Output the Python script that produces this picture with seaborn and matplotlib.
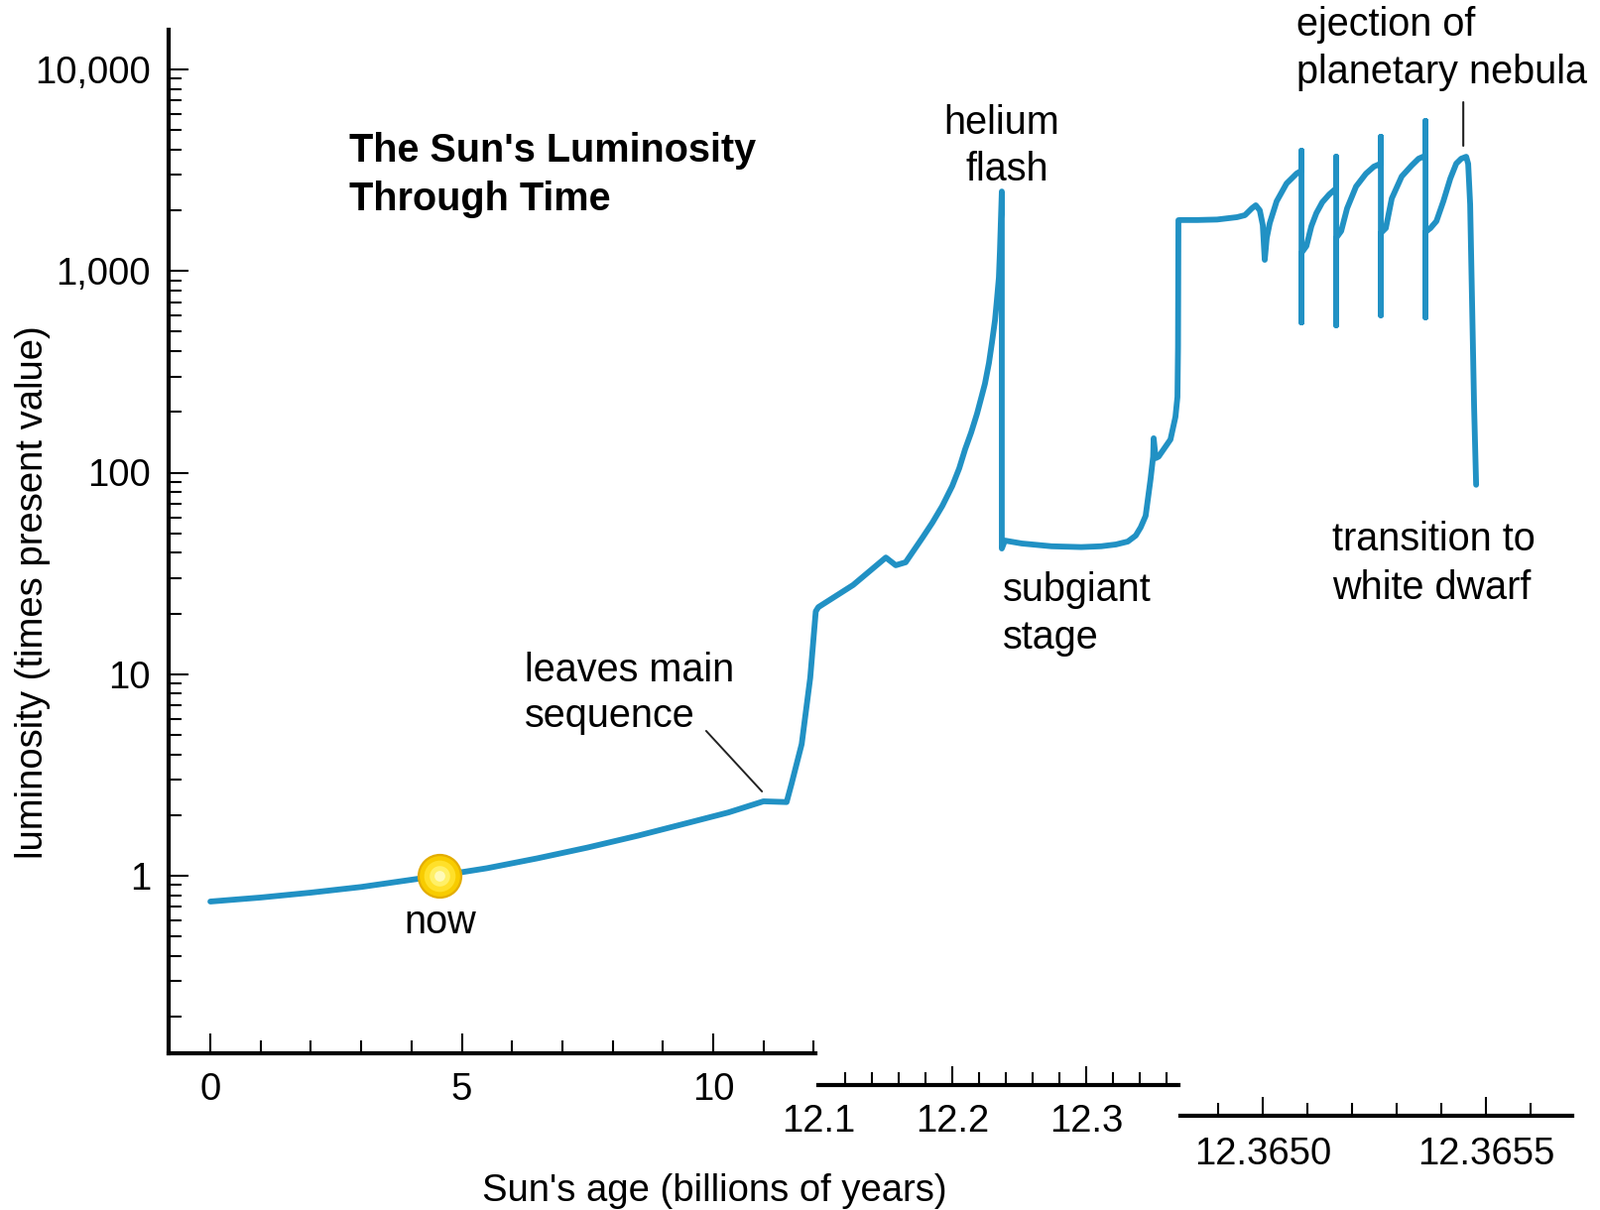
import numpy as np
import matplotlib
matplotlib.use('Agg')
import matplotlib.pyplot as plt
import seaborn as sns

W, H = 1613, 1220
BLUE = '#2191c4'

# main sequence up to leaving it (age in billions of years, luminosity in times present value)
age_ms = [0.0, 1.0, 2.0, 3.0, 4.55, 5.5, 6.5, 7.5, 8.5, 9.5, 10.3, 11.0,
          11.46, 11.56, 11.76, 11.93, 12.04]
lum_ms = [0.745, 0.78, 0.825, 0.88, 1.0, 1.09, 1.22, 1.38, 1.58, 1.83, 2.06, 2.34,
          2.32, 2.87, 4.5, 9.6, 20.5]

# red giant branch up to the helium flash
age_rgb = [12.100, 12.126, 12.1504, 12.1578, 12.1652, 12.1778, 12.1852, 12.1926, 12.2000,
           12.2052, 12.2096, 12.2141, 12.2185, 12.2215, 12.2244, 12.2274, 12.2296, 12.2319,
           12.2333, 12.2348, 12.2356, 12.237, 12.237]
lum_rgb = [21.5, 27.7, 37.9, 34.7, 35.9, 47.6, 56.5, 68.4, 85.8,
           105, 130.5, 158, 196, 233, 276, 350, 440, 569,
           714, 926, 1259, 2480, 42]

# subgiant stage
age_sg = [12.2393, 12.2519, 12.2741, 12.2963, 12.3111, 12.3222, 12.3311, 12.3370, 12.3407,
          12.3444, 12.3481, 12.3500, 12.3504, 12.3519, 12.3541, 12.3570, 12.36153, 12.36345,
          12.36422, 12.36445, 12.3646]
lum_sg = [46, 44.5, 43.1, 42.7, 43.1, 44, 45.5, 48.7, 53.5,
          61, 93, 120, 148, 118, 120, 128, 146, 189,
          237, 420, 1787]

# thermal pulses, planetary nebula, drop to white dwarf
age_agb = [12.364816, 12.3648533, 12.3648978, 12.3649422, 12.3649600, 12.3649756, 12.3649844,
           12.3649933, 12.3650000, 12.3650044, 12.3650089, 12.3650156, 12.3650311, 12.3650533,
           12.3650756,
           12.3650867, 12.3650867, 12.3650867, 12.3650867,
           12.3650978, 12.3651089, 12.3651200, 12.3651333, 12.3651489,
           12.3651644, 12.3651644, 12.3651644, 12.3651644,
           12.3651756, 12.3651889, 12.3652089, 12.3652311, 12.3652489,
           12.3652644, 12.3652644, 12.3652644, 12.3652644,
           12.3652756, 12.3652889, 12.3653111, 12.3653333, 12.3653489,
           12.3653644, 12.3653644, 12.3653644, 12.3653644,
           12.3653756, 12.3653889, 12.3654044, 12.3654200, 12.3654333, 12.3654444, 12.3654556,
           12.3654600, 12.3654644, 12.3654689, 12.3654733, 12.3654778]
lum_agb = [1790, 1790, 1800, 1849, 1892, 2047, 2119,
           2000, 1690, 1136, 1459, 1727, 2218, 2718,
           3042,
           3149, 3950, 556, 1230,
           1331, 1670, 1936, 2193, 2400,
           2572, 3689, 538, 1459,
           1578, 2047, 2625, 3042, 3297,
           3412, 4632, 603, 1543,
           1633, 2291, 2945, 3336, 3607,
           3735, 5550, 589, 1560,
           1633, 1767, 2218, 2877, 3412, 3607, 3689,
           3400, 2142, 667, 210, 87]

age_all = age_ms + age_rgb + age_sg + age_agb
lum_all = lum_ms + lum_rgb + lum_sg + lum_agb

# broken time axis: three linear pieces side by side
brk_age = [-0.83, 12.04, 12.1, 12.36, 12.3646, 12.364816, 12.365693]
brk_px = [170, 822.4, 825, 1176, 1188, 1190.2, 1585]


def fwd(x):
    return np.interp(x, brk_age, brk_px)


def inv(p):
    return np.interp(p, brk_px, brk_age)


sns.set_theme(style='ticks')
plt.rcParams['font.family'] = ['Liberation Sans', 'DejaVu Sans']
plt.rcParams['axes.edgecolor'] = 'black'
plt.rcParams['xtick.color'] = 'black'
plt.rcParams['ytick.color'] = 'black'
plt.rcParams['text.color'] = 'black'

fig = plt.figure(figsize=(W / 100, H / 100), dpi=100)
fig.patch.set_facecolor('white')


def fx(x):
    return x / W


def fy(y):
    return 1 - y / H


ax = fig.add_axes([fx(170), fy(1062), (1585 - 170) / W, (1062 - 30) / H])
ax.patch.set_alpha(0)

sns.lineplot(x=age_all, y=lum_all, sort=False, estimator=None, ax=ax, color=BLUE,
             linewidth=4.2, solid_joinstyle='round', solid_capstyle='round')

ax.set_xscale('function', functions=(fwd, inv))
ax.set_yscale('log')
ax.set_xlim(-0.83, 12.365693)
ax.set_ylim(10 ** (-179 / 203.25), 10 ** (853 / 203.25))
ax.set_xlabel('')
ax.set_ylabel('')

# the sun today
for s, c in [(1060, '#e3ad00'), (860, '#f8cc00'), (520, '#ffe02a'), (220, '#fff067'), (60, '#fffab8')]:
    ax.scatter([4.55], [1.0], s=s, color=c, linewidths=0, zorder=5)

for sp in ['top', 'right']:
    ax.spines[sp].set_visible(False)
ax.spines['left'].set_linewidth(3)
ax.spines['bottom'].set_linewidth(3)
ax.spines['bottom'].set_bounds(-0.83, 12.04)

ax.set_xticks([0, 5, 10], labels=['0', '5', '10'])
ax.set_xticks([1, 2, 3, 4, 6, 7, 8, 9, 11, 12], minor=True)
ax.set_yticks([1, 10, 100, 1000, 10000], labels=['1', '10', '100', '1,000', '10,000'])
ax.set_yticks([m * 10.0 ** d for d in range(-1, 4) for m in range(2, 10)], minor=True)
ax.yaxis.set_minor_formatter(matplotlib.ticker.NullFormatter())
ax.tick_params(axis='both', which='both', bottom=True, left=True, top=False, right=False)
ax.tick_params(axis='both', which='major', direction='in', length=14.4, width=1.5, labelsize=27.5)
ax.tick_params(axis='both', which='minor', direction='in', length=9.4, width=1.5)
ax.tick_params(axis='y', which='major', pad=13)
ax.tick_params(axis='x', which='major', pad=14)


def segment_axis(x0, x1, y, lim, major, labels, minor, pad):
    sa = fig.add_axes([fx(x0), fy(y), (x1 - x0) / W, 0.0001])
    sa.patch.set_visible(False)
    for sp in ['top', 'left', 'right']:
        sa.spines[sp].set_visible(False)
    sa.spines['bottom'].set_linewidth(3)
    sa.set_xlim(*lim)
    sa.set_yticks([])
    sa.set_xticks(major, labels=labels)
    sa.set_xticks(minor, minor=True)
    sa.tick_params(axis='x', which='both', bottom=True, top=False)
    sa.tick_params(axis='x', which='major', direction='in', length=14, width=1.5, labelsize=27.5, pad=pad)
    sa.tick_params(axis='x', which='minor', direction='in', length=9.2, width=1.5)
    return sa


seg2 = segment_axis(825, 1188, 1094, (12.1, 12.1 + 363 / 1350),
                    [12.1, 12.2, 12.3], ['12.1', '12.2', '12.3'],
                    [12.12, 12.14, 12.16, 12.18, 12.22, 12.24, 12.26, 12.28, 12.32, 12.34, 12.36], 14)
seg2.xaxis.get_major_ticks()[0].tick1line.set_visible(False)
seg3 = segment_axis(1190.2, 1585, 1125, (12.364816, 12.365693),
                    [12.3650, 12.3655], ['12.3650', '12.3655'],
                    [12.3649, 12.3651, 12.3652, 12.3653, 12.3654, 12.3656], 15)

# leader lines
ax.annotate('', xy=(10.97, 2.62), xytext=(9.86, 5.23),
            arrowprops=dict(arrowstyle='-', lw=1.4, color='#222222', shrinkA=0, shrinkB=0))
ax.annotate('', xy=(12.365449, 4180), xytext=(12.365449, 6880),
            arrowprops=dict(arrowstyle='-', lw=1.5, color='#222222', shrinkA=0, shrinkB=0))

# texts
TS = 28.5
fig.text(fx(352), fy(163), "The Sun's Luminosity", fontsize=28.5, fontweight='bold', va='baseline')
fig.text(fx(352), fy(212), "Through Time", fontsize=28.5, fontweight='bold', va='baseline')
fig.text(fx(1010), fy(135), "helium", fontsize=TS, ha='center', va='baseline')
fig.text(fx(1015), fy(182), "flash", fontsize=TS, ha='center', va='baseline')
fig.text(fx(1307), fy(36), "ejection of", fontsize=TS, va='baseline')
fig.text(fx(1307), fy(84), "planetary nebula", fontsize=TS, va='baseline')
fig.text(fx(1011), fy(606), "subgiant", fontsize=TS, va='baseline')
fig.text(fx(1011), fy(654), "stage", fontsize=TS, va='baseline')
fig.text(fx(1343), fy(555), "transition to", fontsize=TS, va='baseline')
fig.text(fx(1343), fy(604), "white dwarf", fontsize=TS, va='baseline')
fig.text(fx(529), fy(687), "leaves main", fontsize=TS, va='baseline')
fig.text(fx(529), fy(733), "sequence", fontsize=TS, va='baseline')
fig.text(fx(444), fy(941), "now", fontsize=TS, ha='center', va='baseline')
fig.text(fx(720), fy(1211), "Sun's age (billions of years)", fontsize=27.5, ha='center', va='baseline')
fig.text(fx(33), fy(597), "luminosity (times present value)", fontsize=27.5,
         rotation=90, ha='center', va='center')

fig.savefig('out.png', dpi=100)
